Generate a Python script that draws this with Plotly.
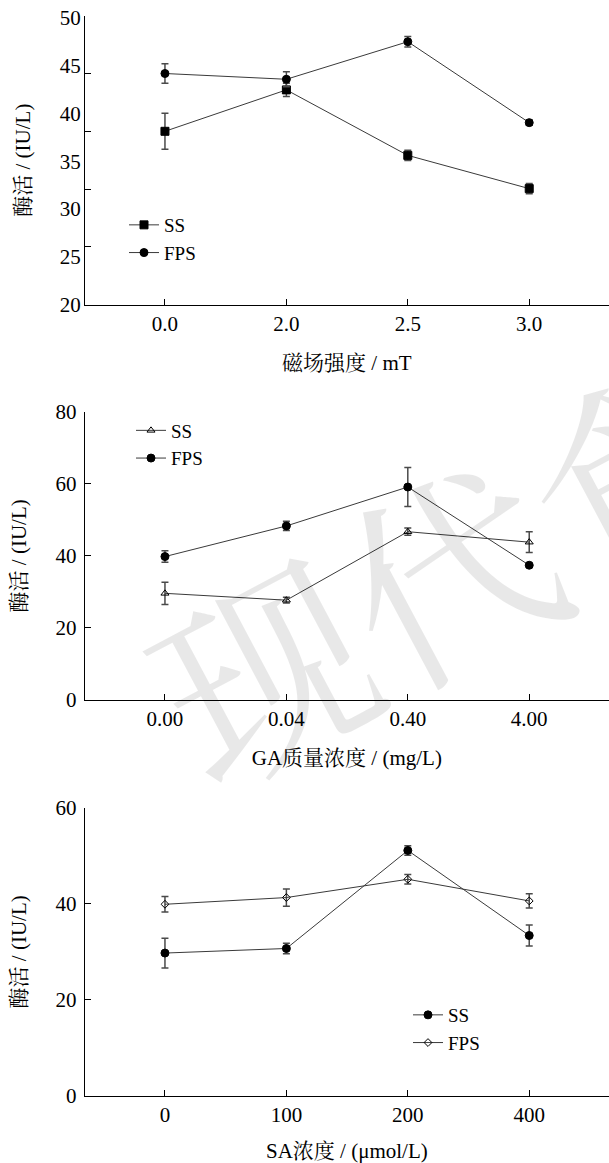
import plotly.graph_objects as go

# ---------------- data ----------------
cat1 = ["0.0", "2.0", "2.5", "3.0"]
p1_ss = [38.0, 42.3, 35.5, 32.05]
p1_ss_err = [1.87, 0.7, 0.54, 0.52]
p1_fps = [44.0, 43.4, 47.3, 38.9]
p1_fps_err = [1.0, 0.78, 0.54, 0.28]
p1_tickmarks = [50, 44, 38, 32, 26, 20]
p1_ticklabels = [50, 45, 40, 35, 30, 25, 20]

cat2 = ["0.00", "0.04", "0.40", "4.00"]
p2_ss = [29.6, 27.7, 46.7, 43.8]
p2_ss_err = [3.1, 0.8, 1.0, 2.9]
p2_fps = [39.8, 48.3, 59.1, 37.4]
p2_fps_err = [1.6, 1.3, 5.4, 0.5]

cat3 = ["0", "100", "200", "400"]
p3_ss = [29.75, 30.7, 51.1, 33.4]
p3_ss_err = [3.1, 1.1, 1.0, 2.2]
p3_fps = [39.9, 41.3, 45.1, 40.6]
p3_fps_err = [1.6, 1.8, 1.0, 1.5]

FONT = "'Liberation Serif', 'Times New Roman', Tinos, 'Noto Serif CJK SC', 'Noto Sans CJK SC', serif"
LINE = "#3a3a3a"
ERR = "#4a4a4a"

fig = go.Figure()

def add(xa, ya, cats, vals, errs, name, symbol, size, legend):
    fig.add_trace(go.Scatter(
        x=list(range(len(cats))), y=vals, name=name, mode="lines+markers",
        xaxis=xa, yaxis=ya, legend=legend,
        line=dict(color=LINE, width=1),
        marker=dict(symbol=symbol, size=size, color="black",
                    line=dict(color="black", width=1)),
        error_y=dict(type="data", array=errs, visible=True, color=ERR,
                     thickness=1.5, width=3.5),
    ))

add("x", "y", cat1, p1_ss, p1_ss_err, "SS", "square", 8, "legend")
add("x", "y", cat1, p1_fps, p1_fps_err, "FPS", "circle", 8, "legend")
add("x2", "y2", cat2, p2_ss, p2_ss_err, "SS", "triangle-up-open", 7, "legend2")
add("x2", "y2", cat2, p2_fps, p2_fps_err, "FPS", "circle", 8, "legend2")
add("x3", "y3", cat3, p3_ss, p3_ss_err, "SS", "circle", 8, "legend3")
add("x3", "y3", cat3, p3_fps, p3_fps_err, "FPS", "diamond-open", 6, "legend3")
# carrier for the label axis of panel 1 (draws nothing)
fig.add_trace(go.Scatter(x=[None], y=[None], xaxis="x", yaxis="y4", mode="markers",
                         showlegend=False, hoverinfo="skip"))

H = 1163.0
W = 609.0
xdom = [84.7 / W, 1.0]
d1 = [1 - 304.7 / H, 1 - 15.7 / H]
d2 = [1 - 700 / H, 1 - 411.7 / H]
d3 = [1 - 1096 / H, 1 - 807.7 / H]

tickfont = dict(family=FONT, size=21, color="black")
titlefont = dict(family=FONT, size=21, color="black")

def xax(dom_anchor, cats, title):
    return dict(domain=xdom, anchor=dom_anchor, range=[-0.661, 3.657],
                tickvals=list(range(len(cats))), ticktext=cats,
                ticks="inside", ticklen=6, tickcolor="black", tickwidth=1,
                showline=True, linecolor="black", linewidth=1.2,
                showgrid=False, zeroline=False, tickfont=tickfont,
                automargin=False,
                title=dict(text=title, font=titlefont, standoff=20))

def yax(dom, anchor, rng, tickvals, title=None, showlabels=True):
    d = dict(domain=dom, anchor=anchor, range=rng, tickvals=tickvals,
             ticks="inside", ticklen=6, tickcolor="black", tickwidth=1,
             showline=True, linecolor="black", linewidth=1.2,
             showgrid=False, zeroline=False, tickfont=tickfont,
             ticklabelstandoff=3,
             showticklabels=showlabels, automargin=False)
    if title:
        d["title"] = dict(text=title, font=titlefont, standoff=23)
    return d

ytitle = "酶活 / (IU/L)"
legfont = dict(family=FONT, size=19, color="black")
fig.update_layout(
    template="none",
    width=609, height=1163,
    margin=dict(l=0, r=0, t=0, b=0, pad=0),
    paper_bgcolor="white", plot_bgcolor="rgba(0,0,0,0)",
    font=dict(family=FONT, size=21, color="black"),
    xaxis=xax("y", cat1, "磁场强度 / mT"),
    yaxis=yax(d1, "x", [20, 50], p1_tickmarks, showlabels=False),
    yaxis4=dict(overlaying="y", side="left", anchor="x", range=[20, 50.24],
                tickvals=p1_ticklabels, ticks="", showline=False,
                showgrid=False, zeroline=False, tickfont=tickfont,
                ticklabelstandoff=3, automargin=False,
                title=dict(text=ytitle, font=titlefont, standoff=23)),
    xaxis2=xax("y2", cat2, "GA质量浓度 / (mg/L)"),
    yaxis2=yax(d2, "x2", [0, 80], [0, 20, 40, 60, 80], ytitle),
    xaxis3=xax("y3", cat3, "SA浓度 / (μmol/L)"),
    yaxis3=yax(d3, "x3", [0, 60], [0, 20, 40, 60], ytitle),
    legend=dict(x=124 / W, y=1 - 206 / H, xanchor="left", yanchor="top",
                bgcolor="rgba(0,0,0,0)", font=legfont, tracegroupgap=0),
    legend2=dict(x=131 / W, y=1 - 411.5 / H, xanchor="left", yanchor="top",
                 bgcolor="rgba(0,0,0,0)", font=legfont, tracegroupgap=0),
    legend3=dict(x=408 / W, y=1 - 996 / H, xanchor="left", yanchor="top",
                 bgcolor="rgba(0,0,0,0)", font=legfont, tracegroupgap=0),
    showlegend=True,
)

# watermark
fig.add_annotation(text="现代食", x=445 / W, y=1 - 565 / H, xref="paper", yref="paper",
                   xanchor="center", yanchor="middle", showarrow=False,
                   textangle=-28, font=dict(family="Noto Serif CJK SC, Noto Sans CJK SC",
                                            size=210, color="rgba(0,0,0,0.09)"))

fig.write_html("out.html", config={"displayModeBar": False},
               post_script="document.body.style.margin='0';document.body.style.padding='0';")
